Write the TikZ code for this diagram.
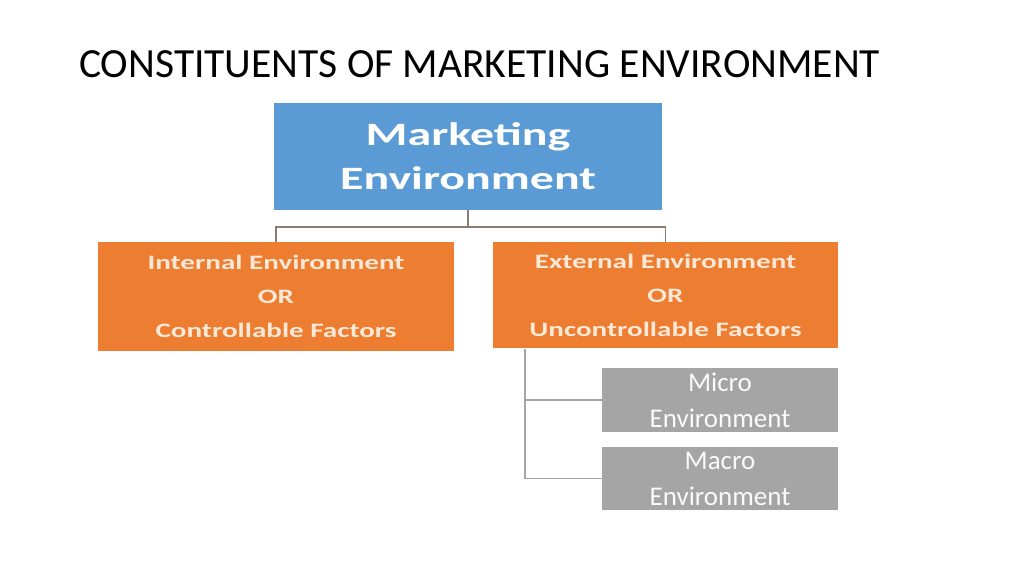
\documentclass[tikz,border=0pt]{standalone}
\usepackage{fontspec}
\setmainfont{Carlito}
\newfontfamily\widefont[FakeStretch=1.47]{Carlito}
\newfontfamily\sidefont[FakeStretch=1.42]{Carlito}
\definecolor{topblue}{HTML}{5B9BD5}
\definecolor{sideorange}{HTML}{ED7D31}
\definecolor{leafgray}{HTML}{A5A5A5}
\definecolor{linkbrown}{HTML}{8A7C72}
\definecolor{creamtext}{HTML}{FCE8D6}

\begin{document}
\begin{tikzpicture}[x=1pt, y=-1pt, root/.style = {shape=rectangle, align=center, fill=topblue, text=white, inner sep=0pt, minimum width=388pt, minimum height=107pt, font=\widefont\bfseries\fontsize{32.6}{44}\selectfont}, side/.style = {shape=rectangle, align=center, fill=sideorange, text=creamtext, inner sep=0pt, font=\sidefont\bfseries\fontsize{20.5}{34}\selectfont}, leaf/.style = {shape=rectangle, align=center, fill=leafgray, text=white!95!leafgray, inner sep=0pt, minimum width=236pt, minimum height=64pt, font=\fontsize{27}{36}\selectfont}, link/.style = {draw=linkbrown, line width=1.2pt}, leaflink/.style = {draw=leafgray, line width=1.2pt}]
	\useasboundingbox (0,0) rectangle (1024,576);
	\node[anchor=base west, inner sep=0pt, font=\fontsize{41.5}{50}\selectfont] (title) at (79,77) {CONSTITUENTS OF MARKETING ENVIRONMENT};
	\node[root] (market) at (468,156.5) {Marketing\\Environment};
	\node[side, minimum width=356pt, minimum height=109pt] (internal) at (276,296.5) {Internal Environment\\OR\\Controllable Factors};
	\node[side, minimum width=345pt, minimum height=106pt] (external) at (665.5,295) {External Environment\\OR\\Uncontrollable Factors};
	\node[leaf] (micro) at (720,400) {Micro\\Environment};
	\node[leaf, minimum height=63pt] (macro) at (720,478.5) {Macro\\Environment};
	\coordinate (split) at (468,227);
	\coordinate (trunk) at (525,349);
	\draw[link] (market.south) -- (split);
	\draw[link] (split) -| (internal.north);
	\draw[link] (split) -| (external.north);
	\draw[leaflink] (trunk) |- (micro.west);
	\draw[leaflink] (trunk) |- (macro.west);
\end{tikzpicture}
\end{document}
